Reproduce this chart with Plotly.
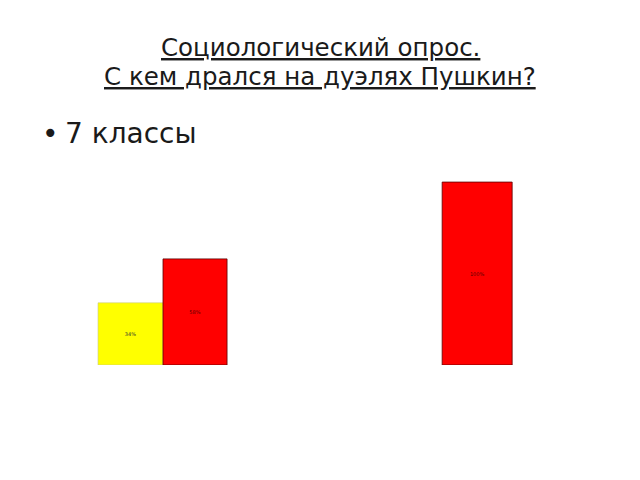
import plotly.graph_objects as go

categories = ["A", "B"]
yellow_values = [34]
yellow_labels = ["34%"]
red_values = [58, 100]
red_labels = ["58%", "100%"]

title_lines = ["Социологический опрос.", "С кем дрался на дуэлях Пушкин?"]
bullet_text = "7 классы"

# plot area: left 52, width 520, bottom 357, height 195 (figure px)
def px(fx):
    return (fx - 52) / 520


def py(fy):
    return (357 - fy) / 195


fig = go.Figure()
fig.add_trace(go.Bar(
    x=categories[:1], y=yellow_values, text=yellow_labels,
    marker=dict(color="#ffff00", line=dict(color="#c8c890", width=0.6)),
    width=[0.207], offset=[-0.207],
    textposition="inside", insidetextanchor="middle",
    textfont=dict(size=5, color="#333333"),
))
fig.add_trace(go.Bar(
    x=categories, y=red_values, text=red_labels,
    marker=dict(color="#ff0000", line=dict(color="#5a0000", width=0.8)),
    width=[0.204, 0.223], offset=[0, -0.111],
    textposition="inside", insidetextanchor="middle",
    textfont=dict(size=5, color="#550000"),
))

fig.update_layout(
    width=640, height=480,
    margin=dict(l=52, r=68, t=162, b=123),
    paper_bgcolor="white", plot_bgcolor="white",
    barmode="overlay", showlegend=False,
    font=dict(family="DejaVu Sans", color="#1a1a1a"),
    xaxis=dict(range=[-0.328, 1.328], visible=False, type="category"),
    yaxis=dict(range=[0, 106.6], visible=False),
)

for i, line in enumerate(title_lines):
    fig.add_annotation(text="<u>" + line.replace(" ", "\u00a0") + "</u>",
                       xref="paper", yref="paper",
                       x=px(312), y=py(39 + 30 * i), showarrow=False,
                       font=dict(size=24.5), xanchor="center", yanchor="middle")
fig.add_annotation(text="\u2022", xref="paper", yref="paper",
                   x=px(42), y=py(125), showarrow=False,
                   font=dict(size=28), xanchor="center", yanchor="middle")
fig.add_annotation(text=bullet_text, xref="paper", yref="paper",
                   x=px(55), y=py(125), showarrow=False,
                   font=dict(size=28), xanchor="left", yanchor="middle")

fig.write_html("out.html")
